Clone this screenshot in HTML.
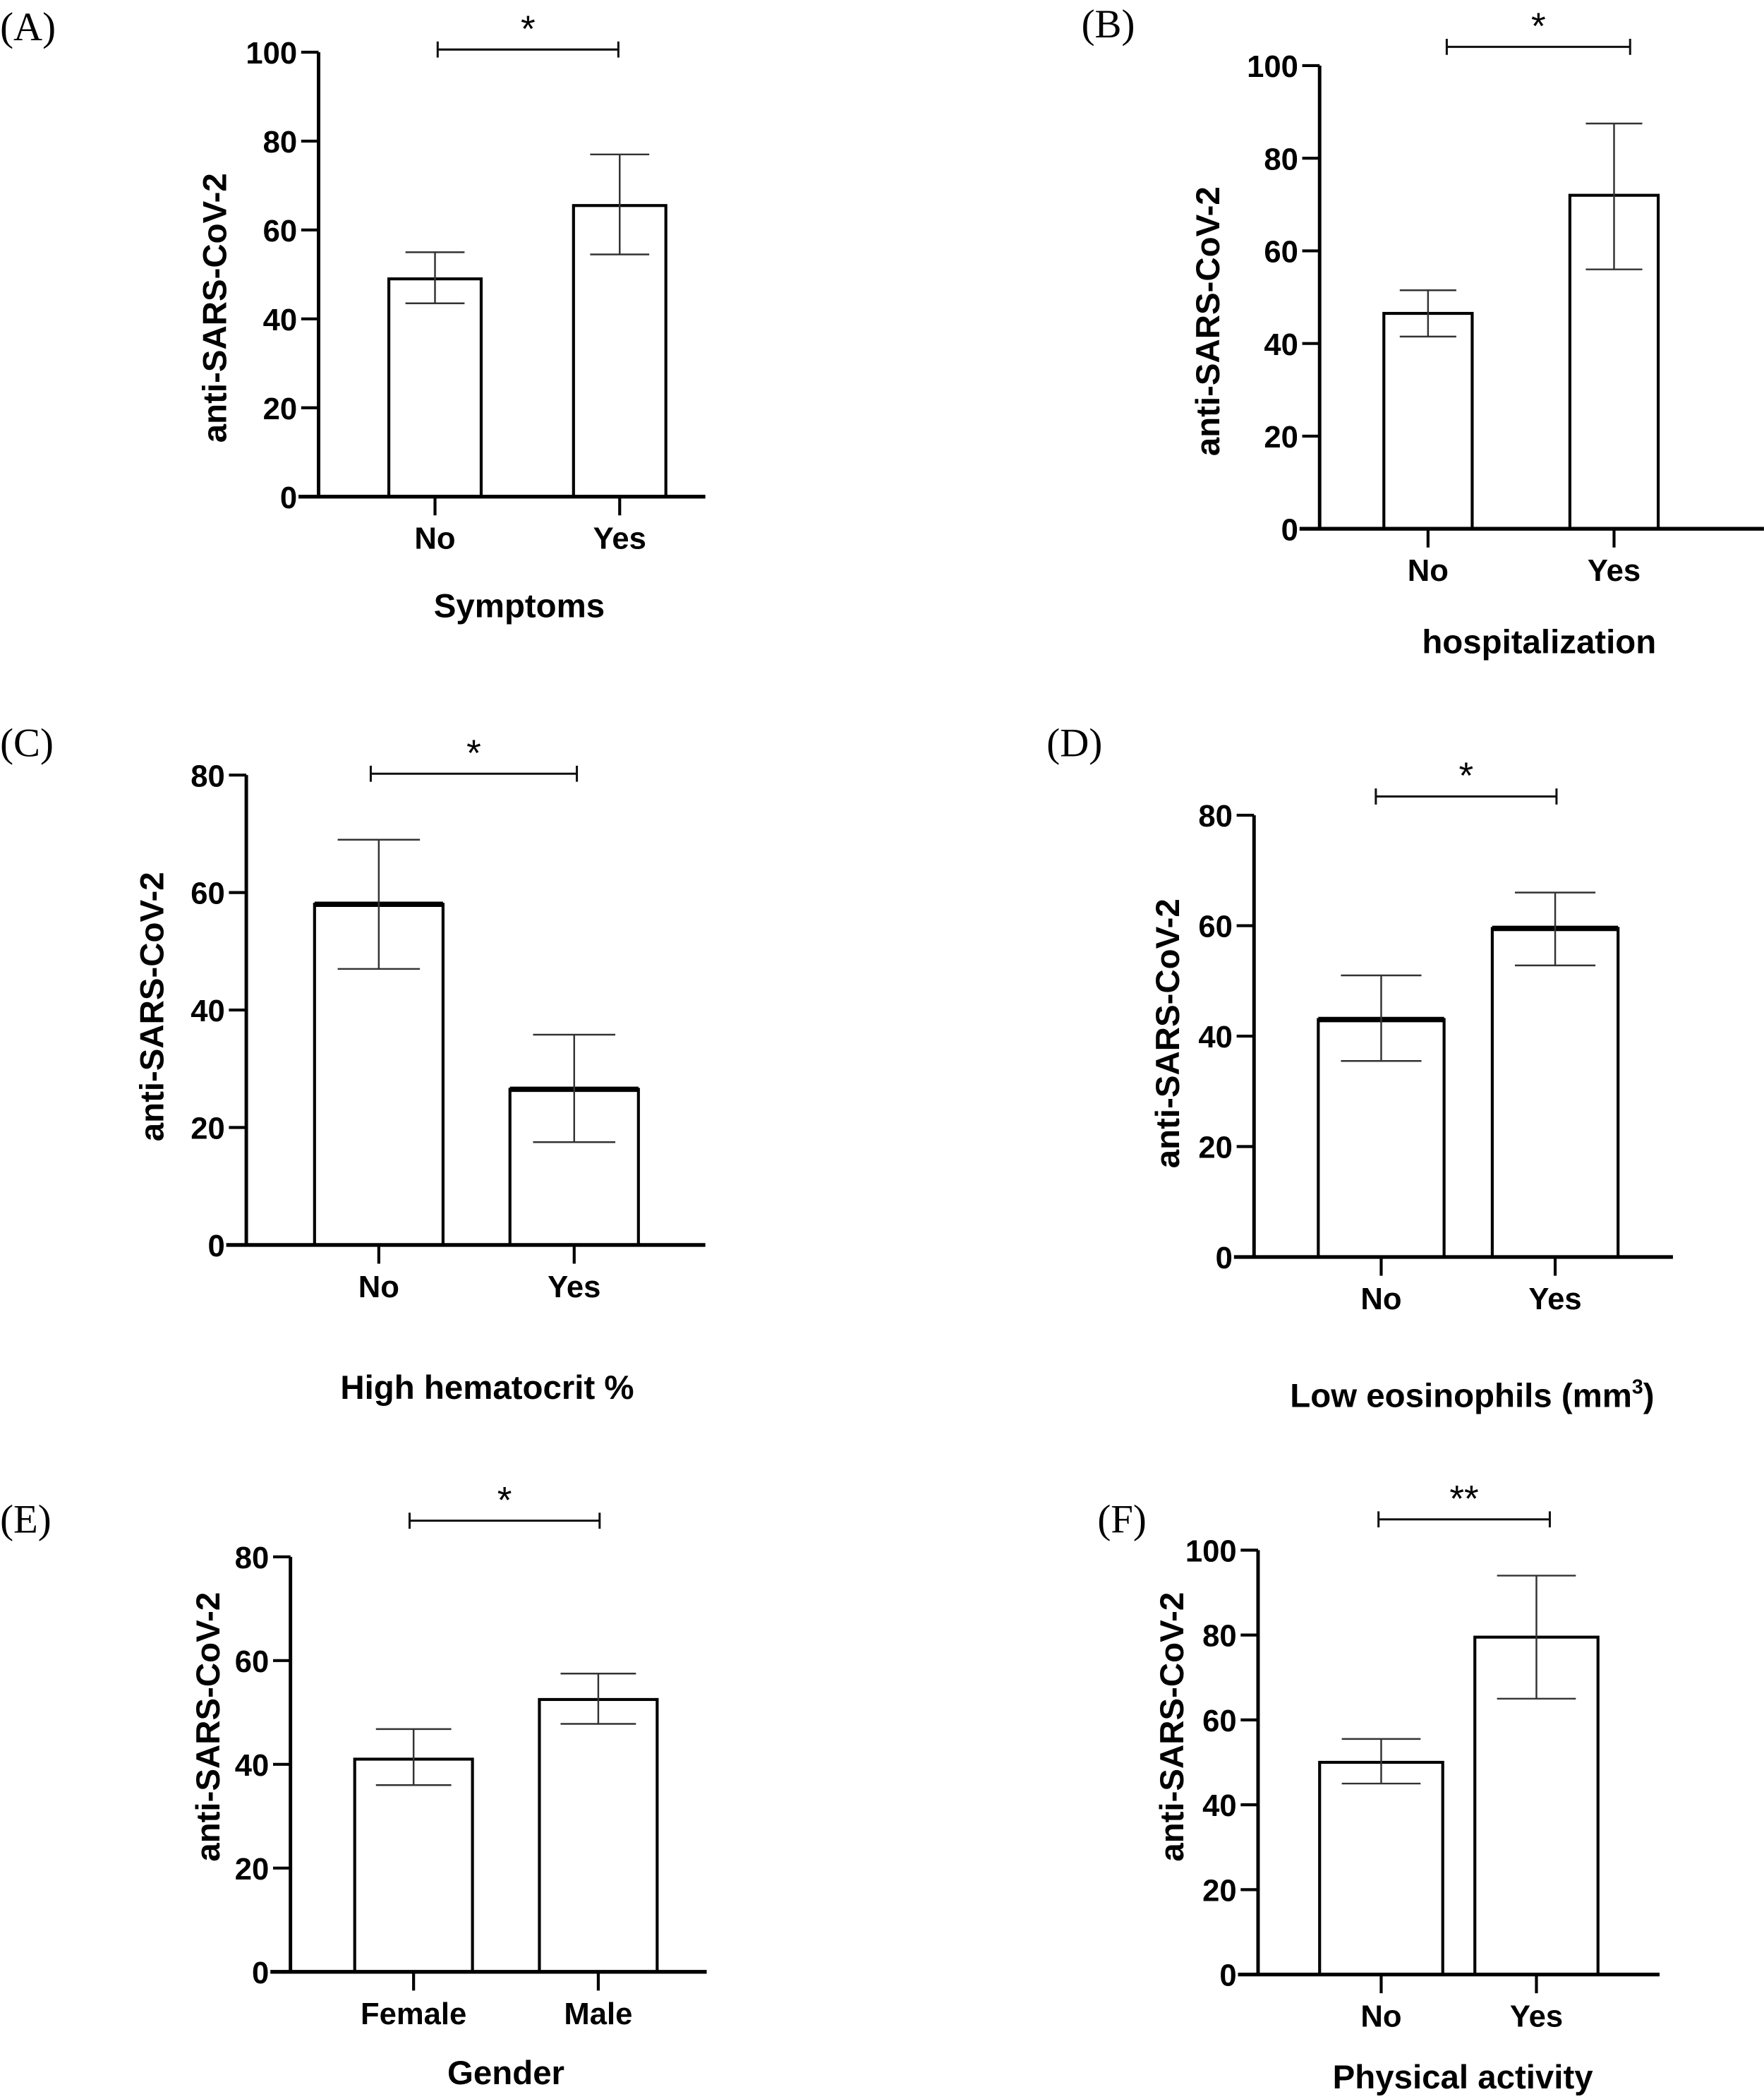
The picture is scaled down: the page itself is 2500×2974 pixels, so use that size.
<!DOCTYPE html>
<html><head><meta charset="utf-8"><style>
html,body{margin:0;padding:0;background:#fff;}
svg{display:block;}
.tick{font-family:"Liberation Sans Narrow","Liberation Sans",sans-serif;font-weight:bold;font-size:23px;fill:#000;}
.ytitle{font-family:"Liberation Sans",sans-serif;font-weight:bold;font-size:25px;fill:#000;}
.xtitle{font-family:"Liberation Sans Narrow","Liberation Sans",sans-serif;font-weight:bold;font-size:25px;fill:#000;}
.plabel{font-family:"Liberation Serif",serif;font-size:30px;fill:#000;}
.star{font-family:"Liberation Sans",sans-serif;font-size:28px;fill:#000;}
</style></head><body>
<svg id="fig" width="2500" height="2974" viewBox="0 0 1318 1568" xmlns="http://www.w3.org/2000/svg"></svg>
<script>
// ---- data (per panel) ----
const catsA = ["No","Yes"];
const valsA = [49, 65.5];
const lowA = [43.5, 54.5];
const highA = [55, 77];

const catsB = ["No","Yes"];
const valsB = [46.5, 72];
const lowB = [41.5, 56];
const highB = [51.5, 87.5];

const catsC = ["No","Yes"];
const valsC = [58, 26.5];
const lowC = [47, 17.5];
const highC = [69, 35.8];

const catsD = ["No","Yes"];
const valsD = [43, 59.5];
const lowD = [35.5, 52.8];
const highD = [51, 66];

const catsE = ["Female","Male"];
const valsE = [41, 52.5];
const lowE = [36, 47.8];
const highE = [46.8, 57.5];

const catsF = ["No","Yes"];
const valsF = [50, 79.5];
const lowF = [45, 65];
const highF = [55.5, 94];

const ticks100 = [0,20,40,60,80,100];
const ticks80 = [0,20,40,60,80];

// ---- layout (overview units) ----
const panels = [
 {id:"a",label:"(A)",lx:0,ly:30,cats:catsA,vals:valsA,low:lowA,high:highA,ticks:ticks100,max:100,
  ax:238,y0:371,yTop:39,xEnd:527,centers:[325,463],bw:69,thick:false,
  title:"Symptoms",tx:388,ty:461,ytx:160,yty:230,by:37,bx1:327,bx2:462,star:"*"},
 {id:"b",label:"(B)",lx:808,ly:28,cats:catsB,vals:valsB,low:lowB,high:highB,ticks:ticks100,max:100,
  ax:986,y0:395,yTop:49,xEnd:1318,centers:[1067,1206],bw:66,thick:false,
  title:"hospitalization",tx:1150,ty:488,ytx:902,yty:240,by:35,bx1:1081,bx2:1218,star:"*"},
 {id:"c",label:"(C)",lx:0,ly:565,cats:catsC,vals:valsC,low:lowC,high:highC,ticks:ticks80,max:80,
  ax:184,y0:930,yTop:579,xEnd:527,centers:[283,429],bw:96,thick:true,
  title:"High hematocrit %",tx:364,ty:1045,ytx:113,yty:752,by:578,bx1:277,bx2:431,star:"*"},
 {id:"d",label:"(D)",lx:782,ly:565,cats:catsD,vals:valsD,low:lowD,high:highD,ticks:ticks80,max:80,
  ax:937,y0:939,yTop:609,xEnd:1250,centers:[1032,1162],bw:94,thick:true,
  title:"Low eosinophils (mm",tx:1100,ty:1051,ytx:872,yty:772,by:595,bx1:1028,bx2:1163,star:"*",sup:true},
 {id:"e",label:"(E)",lx:0,ly:1145,cats:catsE,vals:valsE,low:lowE,high:highE,ticks:ticks80,max:80,
  ax:217,y0:1473,yTop:1163,xEnd:528,centers:[309,447],bw:88,thick:false,
  title:"Gender",tx:378,ty:1557,ytx:155,yty:1290,by:1136,bx1:306,bx2:448,star:"*"},
 {id:"f",label:"(F)",lx:820,ly:1145,cats:catsF,vals:valsF,low:lowF,high:highF,ticks:ticks100,max:100,
  ax:940,y0:1475,yTop:1158,xEnd:1240,centers:[1032,1148],bw:92,thick:false,
  title:"Physical activity",tx:1093,ty:1560,ytx:875,yty:1290,by:1135,bx1:1030,bx2:1158,star:"**"}
];

const NS="http://www.w3.org/2000/svg";
const svg=document.getElementById("fig");
function mk(tag,attrs,parent){const e=document.createElementNS(NS,tag);for(const k in attrs)e.setAttribute(k,attrs[k]);parent.appendChild(e);return e;}

panels.forEach(p=>{
  const g=mk("g",{},svg);
  
  
  const y=v=>p.y0-(v/p.max)*(p.y0-p.yTop);
  const pl=mk("text",{x:p.lx,y:p.ly,class:"plabel"},g);pl.textContent=p.label;
  
  
  const cap=p.bw*0.32;
  p.vals.forEach((v,i)=>{
    const cx=p.centers[i];
    const r=mk("rect",{x:cx-p.bw/2,y:y(v),width:p.bw,height:p.y0-y(v),fill:"#fff",stroke:"#000","stroke-width":2.2},g);
    
    
    if(p.thick){const t=mk("line",{x1:cx-p.bw/2,x2:cx+p.bw/2,y1:y(v),y2:y(v),stroke:"#000","stroke-width":4},g);
      
      }
    const eg=mk("g",{stroke:"#333","stroke-width":1.3},g);
    
    
    mk("line",{x1:cx,x2:cx,y1:y(p.low[i]),y2:y(p.high[i])},eg);
    mk("line",{x1:cx-cap,x2:cx+cap,y1:y(p.low[i]),y2:y(p.low[i])},eg);
    mk("line",{x1:cx-cap,x2:cx+cap,y1:y(p.high[i]),y2:y(p.high[i])},eg);
  });
  const ya=mk("line",{x1:p.ax,x2:p.ax,y1:p.yTop,y2:p.y0,stroke:"#000","stroke-width":2.6},g);
  
  
  const xa=mk("line",{x1:p.ax-15,x2:p.xEnd,y1:p.y0,y2:p.y0,stroke:"#000","stroke-width":2.8},g);
  
  
  p.ticks.forEach(t=>{
    mk("line",{x1:p.ax-13,x2:p.ax,y1:y(t),y2:y(t),stroke:"#000","stroke-width":2.2},g);
    const tl=mk("text",{x:p.ax-16,y:y(t)+8.5,"text-anchor":"end",class:"tick"},g);tl.textContent=t;
    
    
  });
  p.cats.forEach((c,i)=>{
    const cx=p.centers[i];
    mk("line",{x1:cx,x2:cx,y1:p.y0,y2:p.y0+14,stroke:"#000","stroke-width":2.2},g);
    const tl=mk("text",{x:cx,y:p.y0+39,"text-anchor":"middle",class:"tick"},g);tl.textContent=c;
    
    
  });
  const xt=mk("text",{x:p.tx,y:p.ty,"text-anchor":"middle",class:"xtitle"},g);xt.textContent=p.title;
  if(p.sup){const s=mk("tspan",{dy:-10,"font-size":"15"},xt);s.textContent="3";const s2=mk("tspan",{dy:10},xt);s2.textContent=")";}
  
  
  const yt=mk("text",{x:0,y:0,"text-anchor":"middle",class:"ytitle",transform:`translate(${p.ytx+9},${p.yty}) rotate(-90)`},g);
  yt.textContent="anti-SARS-CoV-2";
  
  
  const bg=mk("g",{stroke:"#111","stroke-width":1.6},g);
  
  
  mk("line",{x1:p.bx1,x2:p.bx2,y1:p.by,y2:p.by},bg);
  mk("line",{x1:p.bx1,x2:p.bx1,y1:p.by-6,y2:p.by+6},bg);
  mk("line",{x1:p.bx2,x2:p.bx2,y1:p.by-6,y2:p.by+6},bg);
  const st=mk("text",{x:(p.bx1+p.bx2)/2,y:p.by-6,"text-anchor":"middle",class:"star"},g);st.textContent=p.star;
  
  
});
</script>
</body></html>
